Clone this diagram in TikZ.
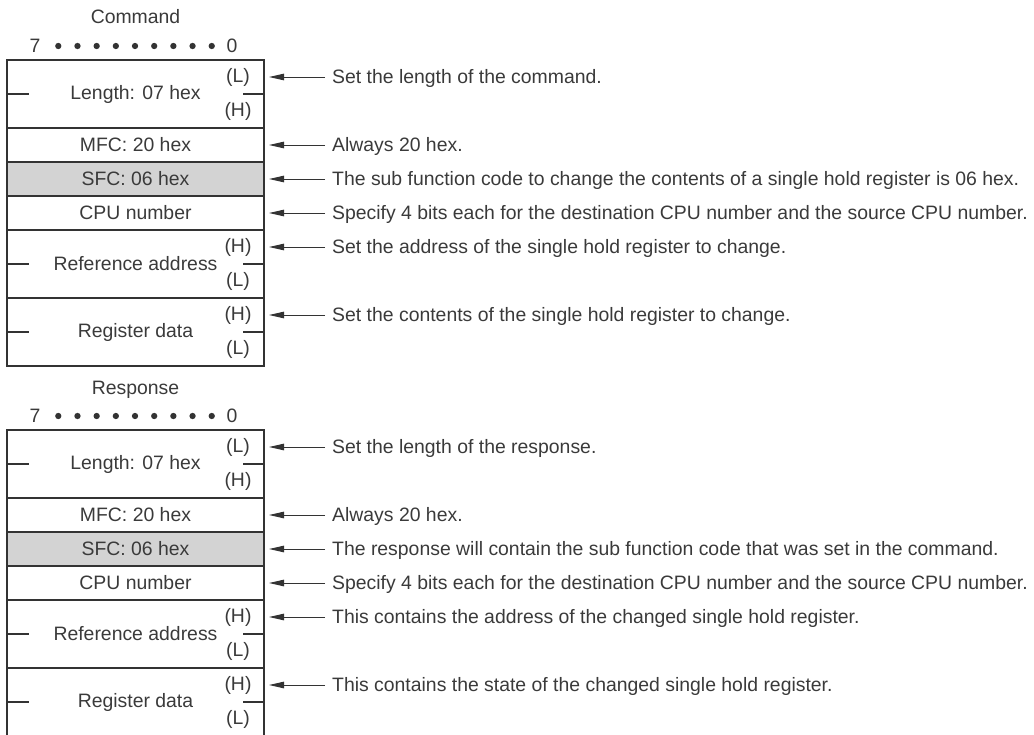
\documentclass[tikz,border=0pt]{standalone}
\usepackage{fontspec}
\setmainfont{Liberation Sans}
\usetikzlibrary{arrows.meta}
\definecolor{ink}{HTML}{333333}
\definecolor{txt}{HTML}{3A3A3A}
\definecolor{shade}{HTML}{D3D3D3}
\tikzset{
  every node/.style={text=txt, font=\fontsize{19.4}{23}\selectfont},
  row/.style={draw=ink, line width=1.2pt, minimum width=257pt, inner sep=0pt},
  single/.style={row, minimum height=34pt},
  double/.style={row, minimum height=68pt},
  shaded/.style={fill=shade},
  hl/.style={inner sep=0pt},
  tick/.style={draw=ink, line width=1.2pt},
  bitdot/.style={circle, fill=ink, inner sep=0pt, minimum size=6.3pt},
  desc/.style={anchor=west, inner sep=0pt, text height=13.8pt, text depth=0pt},
  arr/.style={draw=ink, line width=1pt, -{Triangle[length=15pt,width=6.5pt]}},
}
\begin{document}
\begin{tikzpicture}[x=1pt,y=-1pt]
\useasboundingbox (0,0) rectangle (1034,734);

% ---------------- Command ----------------
\node (ctitle) at (135.5,17) {Command};
\node (c7) at (35,46) {7};
\node (c0) at (232,46) {0};
\foreach \i in {0,...,8} \node[bitdot] (cd\i) at ({58.3+\i*19.18},46) {};

\node[double] (r1) at (135.5,94) {Length: 07 hex};
\node[single] (r2) at (135.5,145) {MFC: 20 hex};
\node[single,shaded] (r3) at (135.5,179) {SFC: 06 hex};
\node[single] (r4) at (135.5,213) {CPU number};
\node[double] (r5) at (135.5,264) {Reference address};
\node[double] (r6) at (135.5,332) {Register data};

\node[hl] (r1a) at (238,77) {(L)};
\node[hl] (r1b) at (238,111) {(H)};
\node[hl] (r5a) at (238,247) {(H)};
\node[hl] (r5b) at (238,281) {(L)};
\node[hl] (r6a) at (238,315) {(H)};
\node[hl] (r6b) at (238,349) {(L)};
\foreach \r in {r1,r5,r6} {
  \draw[tick] (\r.west) -- ++(23,0);
  \draw[tick] (\r.east) -- ++(-22,0);
}

\coordinate (a1) at (269,77);
\coordinate (a2) at (269,145);
\coordinate (a3) at (269,179);
\coordinate (a4) at (269,213);
\coordinate (a5) at (269,247);
\coordinate (a6) at (269,315);
\node[desc] (t1) at (332,77) {Set the length of the command.};
\node[desc] (t2) at (332,145) {Always 20 hex.};
\node[desc] (t3) at (332,179) {The sub function code to change the contents of a single hold register is 06 hex.};
\node[desc] (t4) at (332,213) {Specify 4 bits each for the destination CPU number and the source CPU number.};
\node[desc] (t5) at (332,247) {Set the address of the single hold register to change.};
\node[desc] (t6) at (332,315) {Set the contents of the single hold register to change.};
\foreach \i in {1,...,6} \draw[arr] ([xshift=-7pt]t\i.west) -- (a\i);

% ---------------- Response ----------------
\node (rtitle) at (135.5,390) {Response};
\node (s7) at (35,416) {7};
\node (s0) at (232,416) {0};
\foreach \i in {0,...,8} \node[bitdot] (sd\i) at ({58.3+\i*19.18},416) {};

\node[double] (q1) at (135.5,464) {Length: 07 hex};
\node[single] (q2) at (135.5,515) {MFC: 20 hex};
\node[single,shaded] (q3) at (135.5,549) {SFC: 06 hex};
\node[single] (q4) at (135.5,583) {CPU number};
\node[double] (q5) at (135.5,634) {Reference address};
\node[double] (q6) at (135.5,702) {Register data};

\node[hl] (q1a) at (238,447) {(L)};
\node[hl] (q1b) at (238,481) {(H)};
\node[hl] (q5a) at (238,617) {(H)};
\node[hl] (q5b) at (238,651) {(L)};
\node[hl] (q6a) at (238,685) {(H)};
\node[hl] (q6b) at (238,719) {(L)};
\foreach \r in {q1,q5,q6} {
  \draw[tick] (\r.west) -- ++(23,0);
  \draw[tick] (\r.east) -- ++(-22,0);
}

\coordinate (b1) at (269,447);
\coordinate (b2) at (269,515);
\coordinate (b3) at (269,549);
\coordinate (b4) at (269,583);
\coordinate (b5) at (269,617);
\coordinate (b6) at (269,685);
\node[desc] (u1) at (332,447) {Set the length of the response.};
\node[desc] (u2) at (332,515) {Always 20 hex.};
\node[desc] (u3) at (332,549) {The response will contain the sub function code that was set in the command.};
\node[desc] (u4) at (332,583) {Specify 4 bits each for the destination CPU number and the source CPU number.};
\node[desc] (u5) at (332,617) {This contains the address of the changed single hold register.};
\node[desc] (u6) at (332,685) {This contains the state of the changed single hold register.};
\foreach \i in {1,...,6} \draw[arr] ([xshift=-7pt]u\i.west) -- (b\i);
\end{tikzpicture}
\end{document}
